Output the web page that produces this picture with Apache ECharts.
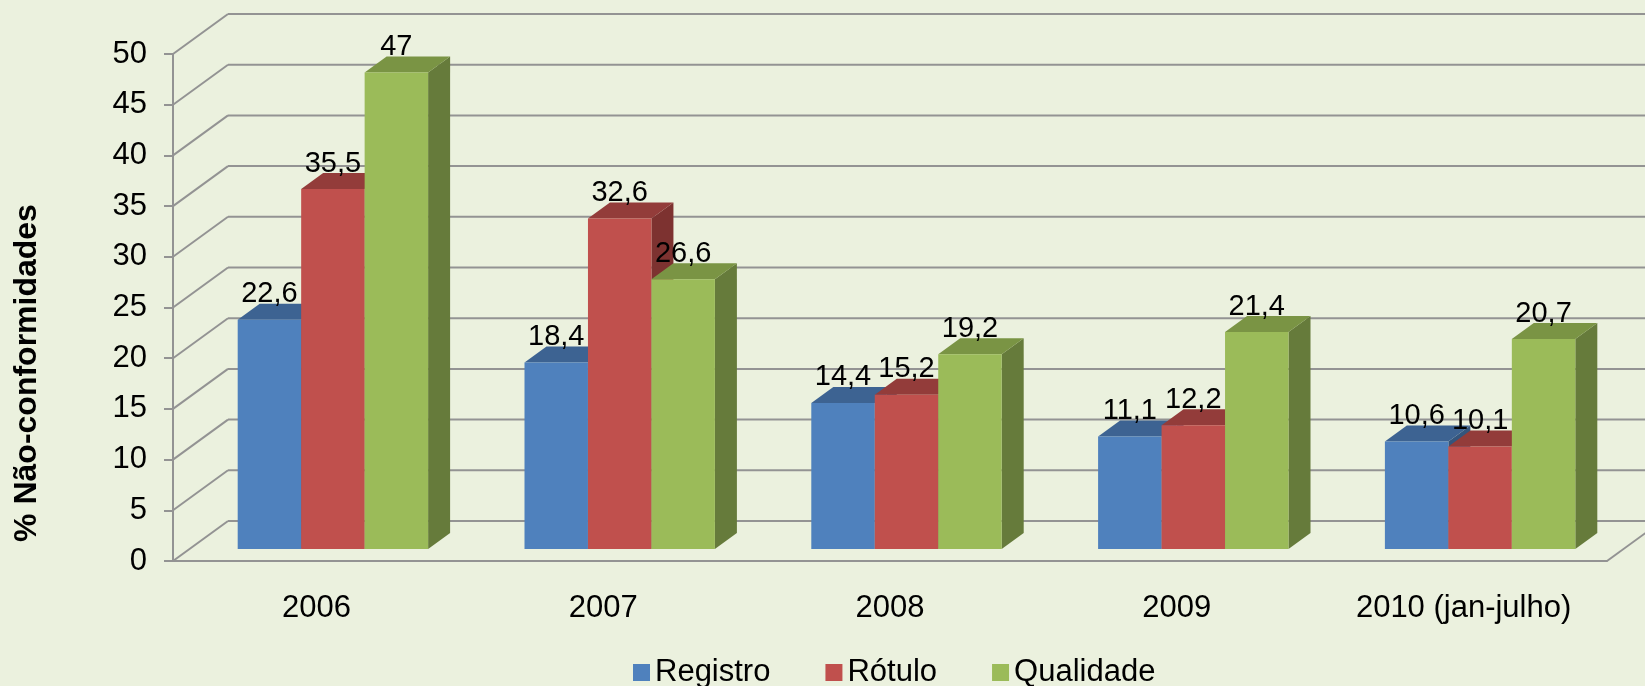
<!DOCTYPE html>
<html>
<head>
<meta charset="utf-8">
<script src="https://cdn.jsdelivr.net/npm/echarts@6/dist/echarts.min.js"></script>
<style>
  html, body { margin: 0; padding: 0; background: #EBF1DE; }
  #chart { width: 1645px; height: 686px; }
</style>
</head>
<body>
<div id="chart"></div>
<script>
// dados
const categories = ['2006', '2007', '2008', '2009', '2010 (jan-julho)']
const registro = [22.6, 18.4, 14.4, 11.1, 10.6]
const rotulo = [35.5, 32.6, 15.2, 12.2, 10.1]
const qualidade = [47, 26.6, 19.2, 21.4, 20.7]
const yTicks = [0, 5, 10, 15, 20, 25, 30, 35, 40, 45, 50]

const seriesNames = ['Registro', 'Rótulo', 'Qualidade']
const seriesData = [registro, rotulo, qualidade]
// frente, topo, lateral
const palette = [
  ['#4F81BD', '#3D6392', '#34557D'],
  ['#C0504D', '#933C3A', '#7D3230'],
  ['#9BBB59', '#7A9444', '#667B3B']
]

// profundidade da "caixa" 3D
const WALL_DX = 55, WALL_DY = -40
const PLANE_DX = 16.5, PLANE_DY = -12
const BAR_DX = 22, BAR_DY = -16
const GRID_COLOR = '#939393'
const FONT = '"Liberation Sans", Arial, sans-serif'

const chart = echarts.init(document.getElementById('chart'))

function fmt(v) {
  return String(v).replace('.', ',')
}

function renderWalls(params, api) {
  const cs = params.coordSys
  const v = api.value(0)
  const y = api.coord([0, v])[1]
  const x0 = cs.x, x1 = cs.x + cs.width
  const children = [
    { type: 'line', shape: { x1: x0, y1: y, x2: x0 + WALL_DX, y2: y + WALL_DY },
      style: { stroke: GRID_COLOR, lineWidth: 2 } },
    { type: 'line', shape: { x1: x0 + WALL_DX, y1: y + WALL_DY, x2: x1 + WALL_DX, y2: y + WALL_DY },
      style: { stroke: GRID_COLOR, lineWidth: 2 } }
  ]
  if (v === 0) {
    children.push({ type: 'line', shape: { x1: x1, y1: y, x2: x1 + WALL_DX, y2: y + WALL_DY },
      style: { stroke: GRID_COLOR, lineWidth: 2 } })
  }
  return { type: 'group', children: children }
}

function makeBarRender(si) {
  return function (params, api) {
    const idx = api.value(0)
    const val = api.value(1)
    const top = api.coord([idx, val])
    const base = api.coord([idx, 0])
    const band = api.size([1, 0])[0]
    const bw = band * 0.2213
    const x = top[0] - 1.5 * bw + si * bw + PLANE_DX
    const yt = top[1] + PLANE_DY
    const yb = base[1] + PLANE_DY
    const c = palette[si]
    return {
      type: 'group',
      children: [
        { type: 'polygon', shape: { points: [[x + bw, yt], [x + bw + BAR_DX, yt + BAR_DY], [x + bw + BAR_DX, yb + BAR_DY], [x + bw, yb]] },
          style: { fill: c[2] } },
        { type: 'polygon', shape: { points: [[x, yt], [x + BAR_DX, yt + BAR_DY], [x + bw + BAR_DX, yt + BAR_DY], [x + bw, yt]] },
          style: { fill: c[1] } },
        { type: 'rect', shape: { x: x, y: yt, width: bw, height: yb - yt },
          style: { fill: c[0] } },
        { type: 'text', z2: 100, x: x + bw / 2, y: yt + BAR_DY + 5,
          style: { text: fmt(val), fill: '#000', font: '29px ' + FONT,
            align: 'center', verticalAlign: 'bottom' } }
      ]
    }
  }
}

const series = [{
  type: 'custom',
  name: 'walls',
  z: 1,
  clip: false,
  silent: true,
  renderItem: renderWalls,
  data: yTicks.map(v => [v])
}]

seriesData.forEach((data, si) => {
  series.push({
    type: 'custom',
    name: seriesNames[si],
    z: 2,
    clip: false,
    itemStyle: { color: palette[si][0] },
    renderItem: makeBarRender(si),
    data: data.map((v, i) => [i, v])
  })
})

const option = {
  backgroundColor: '#EBF1DE',
  animation: false,
  textStyle: { fontFamily: FONT },
  grid: { left: 173, right: 38, top: 54, bottom: 125 },
  legend: {
    data: seriesNames,
    left: 628,
    top: 652,
    icon: 'rect',
    itemWidth: 17,
    itemHeight: 17,
    itemGap: 55,
    textStyle: { fontSize: 31, color: '#000' }
  },
  graphic: [{
    type: 'text',
    x: 27,
    y: 373,
    rotation: Math.PI / 2,
    style: {
      text: '% Não-conformidades',
      font: 'bold 32px ' + FONT,
      fill: '#000',
      align: 'center',
      verticalAlign: 'middle'
    }
  }],
  xAxis: {
    type: 'category',
    data: categories,
    axisLine: { lineStyle: { color: GRID_COLOR, width: 2 } },
    axisTick: { show: false },
    axisLabel: { fontSize: 31, color: '#000', margin: 32 }
  },
  yAxis: {
    type: 'value',
    min: 0,
    max: 50,
    interval: 5,
    axisLine: { show: true, lineStyle: { color: GRID_COLOR, width: 2 } },
    axisTick: { show: true, length: 9, lineStyle: { color: GRID_COLOR, width: 2 } },
    axisLabel: { fontSize: 31, color: '#000', margin: 26 },
    splitLine: { show: false }
  },
  series: series
}

chart.setOption(option)
</script>
</body>
</html>
